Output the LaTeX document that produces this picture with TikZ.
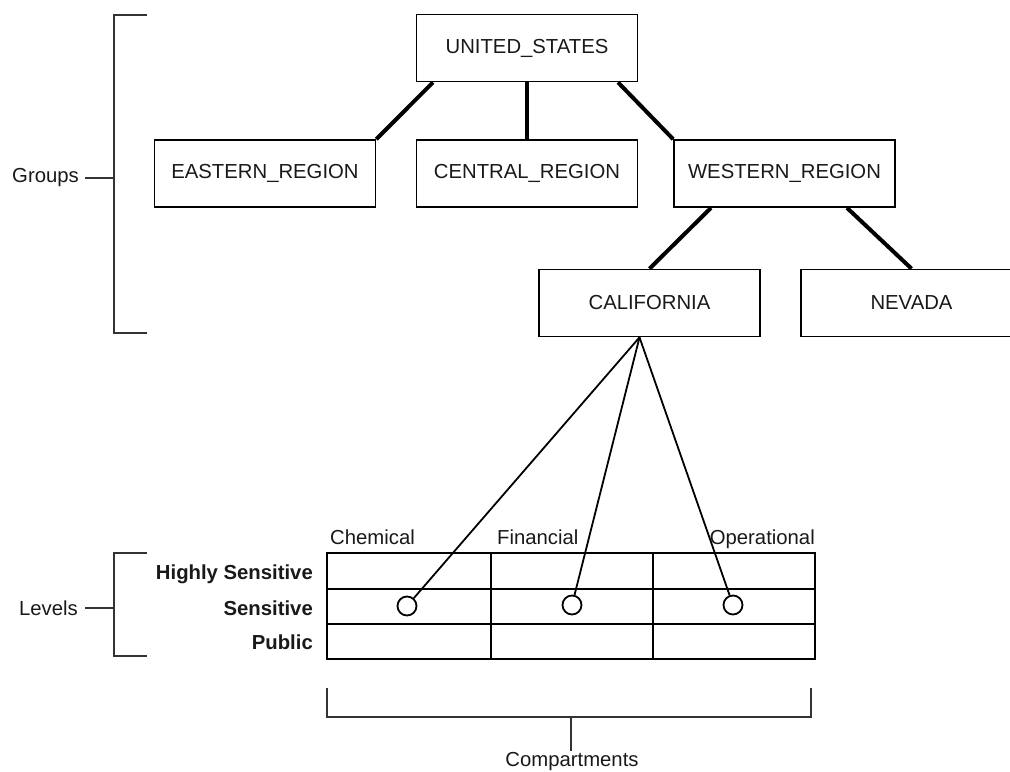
\documentclass[tikz,border=0pt]{standalone}
\usepackage{fontspec}
\setmainfont{Liberation Sans}
\newcommand\diaglbl{\fontsize{20.3bp}{24bp}\selectfont}
\begin{document}
\begin{tikzpicture}[x=1bp,y=-1bp,
  box/.style={draw, line width=1.7bp, minimum width=221bp, minimum height=67bp,
              inner sep=0pt, font=\diaglbl, text=black!90},
  tree/.style={line width=4bp},
  thin/.style={line width=1.8bp},
  grid/.style={line width=2bp},
  brace/.style={line width=1.2bp, draw=black!80},
  lab/.style={font=\diaglbl, inner sep=0pt, text=black!90},
  blab/.style={font=\diaglbl\bfseries, inner sep=0pt, text=black!90},
  dot/.style={circle, draw, line width=1.8bp, minimum size=19bp, inner sep=0pt}]
\useasboundingbox (0,0) rectangle (1010,772);
\clip (0,0) rectangle (1010,772);

% group hierarchy
\node[box] (us)   at (527,48)    {UNITED\_STATES};
\node[box] (east) at (265,173.5) {EASTERN\_REGION};
\node[box] (cent) at (527,173.5) {CENTRAL\_REGION};
\node[box] (west) at (784.5,173.5) {WESTERN\_REGION};
\node[box] (cal)  at (649.5,303) {CALIFORNIA};
\node[box] (nev)  at (911.5,303) {NEVADA};

\draw[tree] ([xshift=-94bp]us.south) -- (east.north east);
\draw[tree] (us.south) -- (cent.north);
\draw[tree] ([xshift=91bp]us.south) -- (west.north west);
\draw[tree] ([xshift=-73.5bp]west.south) -- (cal.north);
\draw[tree] ([xshift=62.5bp]west.south) -- (nev.north);

% groups bracket
\draw[brace] (147,15) -- (114,15) -- (114,333) -- (147,333);
\node[lab, anchor=east] (groups) at (79,178) {Groups};
\draw[brace] (groups.east) ++(6bp,0) -- (114,178);

% level / compartment grid
\draw[grid] (327,553) rectangle (815,659);
\draw[grid] (327,589) -- (815,589);
\draw[grid, line width=2.5bp] (327,624) -- (815,624);
\draw[grid] (490.5,553) -- (490.5,659);
\draw[grid] (652.5,553) -- (652.5,659);

\node[lab, anchor=base west] (chem) at (330,544) {Chemical};
\node[lab, anchor=base west] (fin)  at (497,544) {Financial};
\node[lab, anchor=base east] (ops)  at (815,544) {Operational};

\node[blab, anchor=base east] (hs)  at (313,579) {Highly Sensitive};
\node[blab, anchor=base east] (sen) at (313,615) {Sensitive};
\node[blab, anchor=base east] (pub) at (313,649) {Public};

% levels bracket
\draw[brace] (147,553) -- (114,553) -- (114,656) -- (147,656);
\node[lab, anchor=east] (levels) at (78,608) {Levels};
\draw[brace] (levels.east) ++(7bp,0) -- (114,608);

% compartments bracket
\draw[brace] (327,688) -- (327,717) -- (811,717) -- (811,688);
\node[lab, anchor=base] (comp) at (572,766) {Compartments};
\draw[brace] (571,717) -- (571,751);

% California's label in each compartment
\node[dot] (c1) at (407,606) {};
\node[dot] (c2) at (572,605) {};
\node[dot] (c3) at (733,605) {};
\coordinate (apex) at ([xshift=-10bp]cal.south);
\draw[thin] (apex) -- (c1);
\draw[thin] (apex) -- (c2);
\draw[thin] (apex) -- (c3);
\end{tikzpicture}
\end{document}
